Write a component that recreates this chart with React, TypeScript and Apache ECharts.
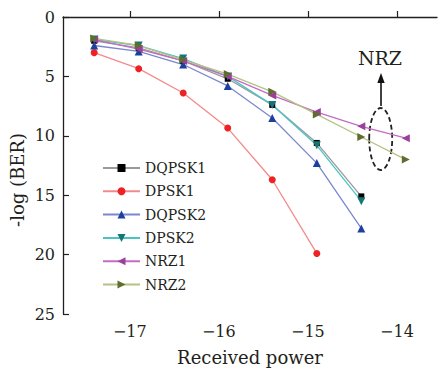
import React, { useEffect, useRef } from "react";
import * as echarts from "echarts";

const xValues = [-17.4, -16.9, -16.4, -15.9, -15.4, -14.9, -14.4, -13.9];
const dqpsk1 = [2.0, 2.6, 3.7, 5.2, 7.4, 10.6, 15.1];
const dpsk1 = [3.0, 4.35, 6.4, 9.35, 13.7, 19.9];
const dqpsk2 = [2.4, 2.9, 4.0, 5.8, 8.5, 12.3, 17.8];
const dpsk2 = [1.9, 2.4, 3.5, 5.0, 7.4, 10.8, 15.5];
const nrz1 = [1.9, 2.7, 3.7, 5.0, 6.6, 8.0, 9.2, 10.2];
const nrz2 = [1.8, 2.4, 3.6, 4.8, 6.3, 8.2, 10.1, 12.0];
const xTicks = [-17, -16, -15, -14];

const FONT = "DejaVu Serif";
const TXT = "#231f20";

function pts(vals: number[]) {
  return vals.map((v, i) => [xValues[i], v]);
}

export default function App() {
  const ref = useRef<HTMLDivElement>(null);
  useEffect(() => {
    if (!ref.current) return;
    const chart = echarts.init(ref.current, null, { renderer: "svg" });
    const mk = (
      name: string,
      vals: number[],
      line: string,
      mark: string,
      symbol: string,
      size: number,
      rot: number
    ) => ({
      name,
      type: "line",
      data: pts(vals),
      symbol,
      symbolSize: size,
      symbolRotate: rot,
      showAllSymbol: true,
      lineStyle: { color: line, width: 1.3 },
      itemStyle: { color: mark },
      emphasis: { disabled: true },
    });
    chart.setOption({
      animation: false,
      backgroundColor: "#ffffff",
      grid: { left: 63, top: 17, right: 1, bottom: 52, containLabel: false },
      legend: {
        orient: "vertical",
        left: 97,
        top: 156,
        itemWidth: 37,
        itemHeight: 10,
        itemGap: 9.3,
        textStyle: { fontFamily: FONT, fontSize: 14, color: TXT, lineHeight: 14 },
        data: ["DQPSK1", "DPSK1", "DQPSK2", "DPSK2", "NRZ1", "NRZ2"],
      },
      xAxis: {
        type: "value",
        min: -17.75,
        max: -13.55,
        name: "Received power",
        nameLocation: "middle",
        nameGap: 34,
        nameTextStyle: { fontFamily: FONT, fontSize: 18, color: TXT },
        axisLine: { show: true, lineStyle: { color: "#231f20", width: 1.3 } },
        axisTick: { show: true, inside: true, length: 6, customValues: xTicks, lineStyle: { color: "#231f20", width: 1.2 } },
        axisLabel: {
          customValues: xTicks,
          fontFamily: FONT,
          fontSize: 16,
          color: TXT,
          margin: 9,
          formatter: (v: number) => (v < 0 ? "\u2212" + Math.abs(v) : String(v)),
        },
        splitLine: { show: false },
      },
      yAxis: {
        type: "value",
        inverse: true,
        min: 0,
        max: 25,
        interval: 5,
        axisLine: { show: true, lineStyle: { color: "#231f20", width: 1.3 } },
        axisTick: { show: true, inside: true, length: 6, lineStyle: { color: "#231f20", width: 1.2 } },
        axisLabel: { fontFamily: FONT, fontSize: 16, color: TXT, margin: 8 },
        splitLine: { show: false },
      },
      graphic: [
        {
          type: "text",
          x: 17,
          y: 180,
          rotation: Math.PI / 2,
          style: {
            text: "-log (BER)",
            fontFamily: FONT,
            fontSize: 18,
            fill: TXT,
            align: "center",
            verticalAlign: "middle",
          },
        },
        {
          type: "text",
          x: 380,
          y: 58,
          style: {
            text: "NRZ",
            fontFamily: FONT,
            fontSize: 19,
            fill: TXT,
            align: "center",
            verticalAlign: "middle",
          },
        },
        {
          type: "line",
          shape: { x1: 381, y1: 106, x2: 381, y2: 80 },
          style: { stroke: "#111", lineWidth: 1.6 },
        },
        {
          type: "polygon",
          shape: { points: [[381, 73], [377.3, 83], [384.7, 83]] },
          style: { fill: "#111" },
        },
        {
          type: "ellipse",
          shape: { cx: 380.7, cy: 139, rx: 11.5, ry: 31 },
          style: { fill: "none", stroke: "#222", lineWidth: 1.8, lineDash: [5, 3] },
        },
      ],
      series: [
        mk("DQPSK1", dqpsk1, "#9a9a9a", "#000000", "rect", 6, 0),
        mk("DPSK1", dpsk1, "#f38a8a", "#ee2124", "circle", 7, 0),
        mk("DQPSK2", dqpsk2, "#7b88cf", "#1f3f9e", "triangle", 8, 0),
        mk("DPSK2", dpsk2, "#4cc4c4", "#167676", "triangle", 8, 180),
        mk("NRZ1", nrz1, "#c46cc4", "#9b3f9b", "triangle", 8, 90),
        mk("NRZ2", nrz2, "#b4c284", "#5f6e2e", "triangle", 8, -90),
      ],
    });
    return () => chart.dispose();
  }, []);
  return (
    <div
      ref={ref}
      style={{ position: "fixed", left: 0, top: 0, width: 438, height: 371, background: "#fff" }}
    />
  );
}
